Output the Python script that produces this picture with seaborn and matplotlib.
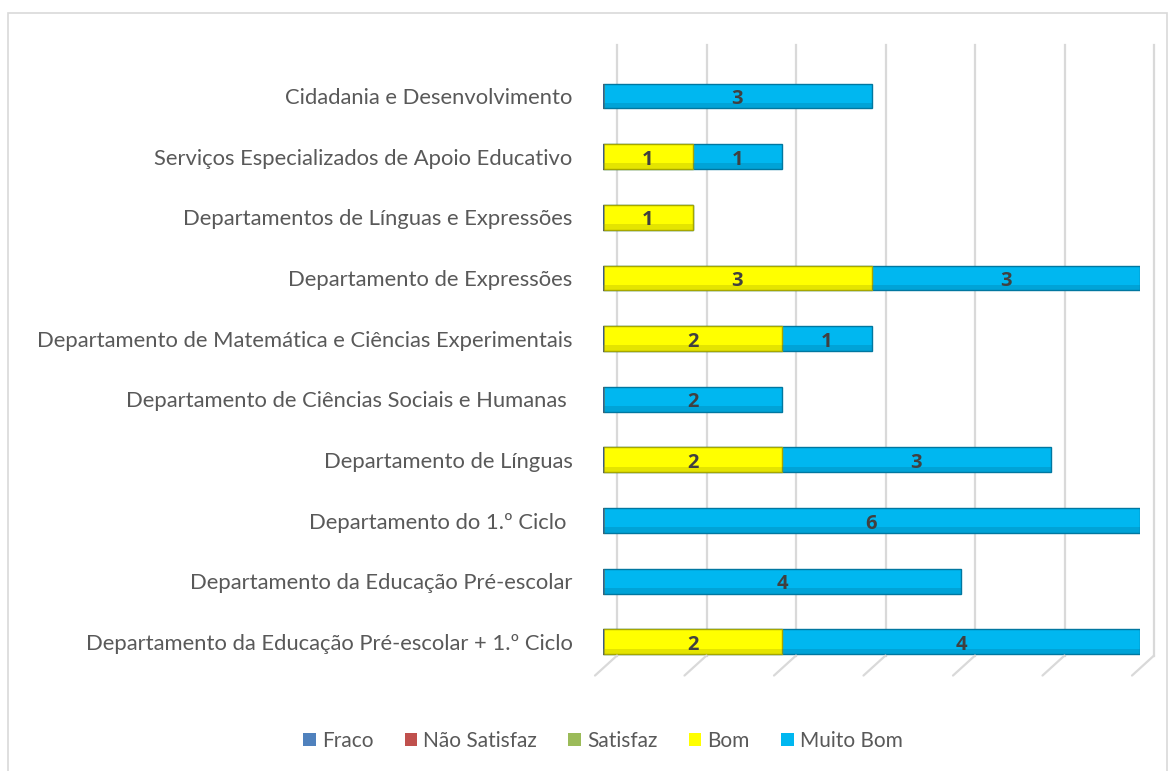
import numpy as np
import pandas as pd
import matplotlib
matplotlib.use("Agg")
import matplotlib.pyplot as plt
import matplotlib.transforms as mtransforms
from matplotlib.patches import Patch, Rectangle
import seaborn as sns

departments = [
    "Cidadania e Desenvolvimento",
    "Serviços Especializados de Apoio Educativo",
    "Departamentos de Línguas e Expressões",
    "Departamento de Expressões",
    "Departamento de Matemática e Ciências Experimentais",
    "Departamento de Ciências Sociais e Humanas ",
    "Departamento de Línguas",
    "Departamento do 1.º Ciclo ",
    "Departamento da Educação Pré-escolar",
    "Departamento da Educação Pré-escolar + 1.º Ciclo",
]
levels = ["Fraco", "Não Satisfaz", "Satisfaz", "Bom", "Muito Bom"]
fraco = [0, 0, 0, 0, 0, 0, 0, 0, 0, 0]
nao_satisfaz = [0, 0, 0, 0, 0, 0, 0, 0, 0, 0]
satisfaz = [0, 0, 0, 0, 0, 0, 0, 0, 0, 0]
bom = [0, 1, 1, 3, 2, 0, 2, 0, 0, 2]
muito_bom = [3, 1, 0, 3, 1, 2, 3, 6, 4, 4]
colors = ["#4F81BD", "#C0504D", "#9BBB59", "#FFFF00", "#00B7F0"]
edge_colors = ["#385D8A", "#8C3836", "#71893F", "#A6A600", "#0077A0"]

df = pd.DataFrame({"Departamento": departments, "Fraco": fraco,
                   "Não Satisfaz": nao_satisfaz, "Satisfaz": satisfaz,
                   "Bom": bom, "Muito Bom": muito_bom})
cum = df[levels].cumsum(axis=1)
starts = cum - df[levels]

text_color = "#595959"
plt.rcParams["font.family"] = ["Lato", "DejaVu Sans"]

fig = plt.figure(figsize=(11.75, 7.71), dpi=100)
ax = fig.add_axes([603 / 1175, 1 - 668 / 771, 537 / 1175, 623 / 771])

# stacked bars: draw cumulative totals from the last level back to the first
for lvl, col, ec in reversed(list(zip(levels, colors, edge_colors))):
    sns.barplot(data=cum.assign(Departamento=departments), x=lvl, y="Departamento",
                orient="h", color=col, edgecolor=ec, linewidth=1.0,
                width=0.41, saturation=1, ax=ax, zorder=3)

ax.set_xlim(0, 6)
ax.set_ylim(9.43, -0.84)

# darker bottom band to suggest the cylinder shading
for i, dep in enumerate(departments):
    for j, lvl in enumerate(levels):
        v = df.loc[i, lvl]
        if v <= 0:
            continue
        s = starts.loc[i, lvl]
        ax.add_patch(Rectangle((s, i + 0.11), v, 0.095, color=edge_colors[j],
                               alpha=0.3, lw=0, zorder=4))
        ax.text(s + v / 2, i + 0.05, str(v), ha="center", va="center",
                fontsize=14.5, fontweight="bold", color="#404040", zorder=6,
                family=["Open Sans", "DejaVu Sans"])

# back-wall gridlines (3D chart), shifted right
shift = mtransforms.ScaledTranslation(14 / 100, 0, fig.dpi_scale_trans)
floor = mtransforms.blended_transform_factory(ax.transData, ax.transAxes)
for xv in range(7):
    ax.plot([xv, xv], [1.0, 0.02], transform=floor + shift, color="#D9D9D9",
            lw=1.6, zorder=1, clip_on=False)
    ax.annotate("", xy=(xv, 0.02), xycoords=floor + shift,
                xytext=(-22, -20), textcoords="offset pixels",
                arrowprops=dict(arrowstyle="-", color="#D9D9D9", lw=1.6,
                                shrinkA=0, shrinkB=0), annotation_clip=False)

ax.set_xlabel("")
ax.set_ylabel("")
ax.set_xticks([])
ax.tick_params(axis="y", length=0, pad=22, labelsize=15.8, labelcolor=text_color)
for sp in ax.spines.values():
    sp.set_visible(False)
ax.set_facecolor("none")

handles = [Patch(facecolor=c, edgecolor="none") for c in colors]
fig.legend(handles, levels, loc="center", bbox_to_anchor=(603 / 1175, 1 - 741 / 771),
           ncol=5, frameon=False, fontsize=15, labelcolor=text_color,
           handlelength=0.6, handleheight=0.6, handletextpad=0.3,
           columnspacing=1.5)

fig.add_artist(Rectangle((8 / 1175, -0.01), 1159 / 1175, 1 - 13 / 771 + 0.01,
                         transform=fig.transFigure, fill=False,
                         edgecolor="#D9D9D9", lw=1.2))

fig.savefig("out.png", dpi=100)
